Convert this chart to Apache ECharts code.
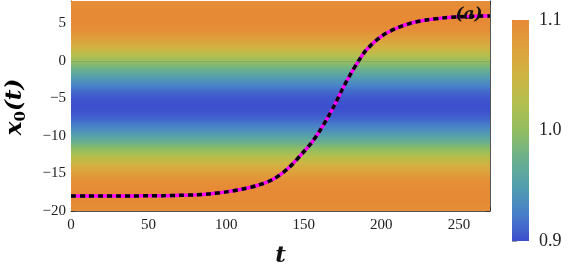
<!DOCTYPE html>
<html>
<head>
<meta charset="utf-8">
<script src="https://cdn.jsdelivr.net/npm/echarts@6/dist/echarts.min.js"></script>
<style>html,body{margin:0;padding:0;background:#fff}#c{width:575px;height:275px}</style>
</head>
<body>
<div id="c"></div>
<script>
// ---- data ----
const tValues = [0,10,20,30,40,50,60,70,80,90,100,110,120,130,140,150,155,160,165,170,175,180,185,190,200,210,220,230,240,250,260,270];
const x0Values = [-18,-18,-18,-18,-18,-17.95,-17.95,-17.9,-17.85,-17.7,-17.45,-17.1,-16.6,-15.8,-14.3,-12.1,-10.9,-9.4,-7.7,-5.8,-3.7,-1.8,-0.1,1.4,3.3,4.4,5.1,5.5,5.75,5.9,5.97,6.0];

const yLevels = [-20,-19,-18,-17,-16,-15,-14,-13,-12,-11,-10,-9,-8,-7,-6,-5,-4,-3,-2,-1,0,1,2,3,4,5,6,7,8];
const fieldValues = [1.095,1.1,1.1,1.1,1.093,1.078,1.058,1.033,1.005,0.978,0.953,0.932,0.915,0.904,0.9,0.904,0.915,0.932,0.953,0.978,1.005,1.033,1.058,1.078,1.093,1.1,1.1,1.1,1.095];

const cbStops  = [0.9, 0.925, 0.95, 0.975, 1.0, 1.025, 1.05, 1.075, 1.1];
const cbColors = ['#3d4ecf','#4880c9','#539fae','#6bb08c','#92bd61','#b3bf4d','#cfb443','#dea13c','#e68a36'];

const xTickInterval = 50, yTickInterval = 5;

// ---- helpers ----
function hex2rgb(h){return [parseInt(h.substr(1,2),16),parseInt(h.substr(3,2),16),parseInt(h.substr(5,2),16)];}
const cbRGB = cbColors.map(hex2rgb);
function colorOf(v){
  if (v <= cbStops[0]) return cbColors[0];
  if (v >= cbStops[cbStops.length-1]) return cbColors[cbColors.length-1];
  for (let i=1;i<cbStops.length;i++){
    if (v <= cbStops[i]){
      const f=(v-cbStops[i-1])/(cbStops[i]-cbStops[i-1]);
      const a=cbRGB[i-1], b=cbRGB[i];
      return 'rgb('+a.map((c,k)=>Math.round(c+(b[k]-c)*f)).join(',')+')';
    }
  }
  return cbColors[cbColors.length-1];
}
const clamp01 = x => Math.min(1, Math.max(0, Math.round(x*10000)/10000));
const fieldData = yLevels.map((y,i)=>[y, fieldValues[i]]);
const lineData = tValues.map((t,i)=>[t, x0Values[i]]);

const FONT = 'Liberation Serif';
const TFONT = 'DejaVu Serif';
const minus = v => String(v).replace('-', '\u2212');

const chart = echarts.init(document.getElementById('c'), null, {renderer:'canvas'});
const tickCommon = {show:true, inside:true, length:4, lineStyle:{color:'#333', width:1}};
const minorCommon = {show:true, splitNumber:5, length:2.5, lineStyle:{color:'#333', width:1}};
const lineCommon = {show:true, onZero:false, lineStyle:{color:'#555', width:1}};

function renderField(params, api){
  // draw one rect spanning the whole field; gradient stops placed via the axis scale
  if (params.dataIndex !== 0) return;
  const n = fieldData.length;
  const top = api.coord([0, fieldData[n-1][0]]), bot = api.coord([270, fieldData[0][0]]);
  const H = bot[1]-top[1];
  const stops = [];
  for (let i=n-1;i>=1;i--){
    const y1=fieldData[i][0], v1=fieldData[i][1], y0=fieldData[i-1][0], v0=fieldData[i-1][1];
    const sub = 6;
    for (let k=0;k<sub;k++){
      const f=k/sub, y=y1+(y0-y1)*f, v=v1+(v0-v1)*f;
      stops.push({offset:clamp01((api.coord([0,y])[1]-top[1])/H), color:colorOf(v)});
    }
  }
  stops.push({offset:1, color:colorOf(fieldData[0][1])});
  return {type:'rect', shape:{x:top[0], y:top[1], width:bot[0]-top[0], height:H},
    style:{fill:new echarts.graphic.LinearGradient(0,0,0,1,stops)}};
}

chart.setOption({
  animation:false,
  grid:[
    {left:71, top:1, width:419, height:210},
    {left:512, top:20, width:17, height:221}
  ],
  xAxis:[
    {type:'value', gridIndex:0, position:'bottom', min:0, max:270, interval:xTickInterval,
     axisLine:lineCommon, axisTick:tickCommon, minorTick:minorCommon, splitLine:{show:false},
     axisLabel:{fontFamily:FONT, fontSize:15, color:'#222', margin:7, showMaxLabel:false},
     name:'t', nameLocation:'middle', nameGap:34,
     nameTextStyle:{fontFamily:TFONT, fontSize:23, fontStyle:'italic', fontWeight:'bold', color:'#111'}},
    {type:'value', gridIndex:0, position:'top', min:0, max:270, interval:xTickInterval,
     axisLine:lineCommon, axisTick:tickCommon, minorTick:minorCommon, splitLine:{show:false},
     axisLabel:{show:false}},
    {type:'value', gridIndex:1, min:0, max:1, show:false}
  ],
  yAxis:[
    {type:'value', gridIndex:0, position:'left', min:-20, max:8, interval:yTickInterval,
     axisLine:lineCommon, axisTick:tickCommon, minorTick:minorCommon, splitLine:{show:false},
     axisLabel:{fontFamily:FONT, fontSize:15, color:'#222', margin:5, showMaxLabel:false, formatter:minus}},
    {type:'value', gridIndex:0, position:'right', min:-20, max:8, interval:yTickInterval,
     axisLine:lineCommon, axisTick:tickCommon, minorTick:minorCommon, splitLine:{show:false},
     axisLabel:{show:false}},
    {type:'value', gridIndex:1, position:'right', min:0.9, max:1.1, interval:0.1,
     axisLine:{show:true, lineStyle:{color:'#c0c4d8', width:1}},
     axisTick:{show:true, inside:false, length:5, lineStyle:{color:'#999', width:1}},
     splitLine:{show:false},
     axisLabel:{fontFamily:FONT, fontSize:18, color:'#222', margin:10, formatter:v=>v.toFixed(1)}}
  ],
  series:[
    {type:'custom', xAxisIndex:0, yAxisIndex:0, data:fieldData, encode:{x:-1, y:0}, clip:true, silent:true, z:1,
     renderItem:renderField,
     markLine:{silent:true, symbol:'none', label:{show:false}, data:[{yAxis:0}],
       lineStyle:{color:'rgba(110,150,110,0.45)', width:1, type:'solid'}}
    },
    {type:'custom', xAxisIndex:2, yAxisIndex:2, data:[[0]], silent:true, z:1,
     renderItem:function(params, api){
       const p1=api.coord([0, 1.1]), p2=api.coord([1, 0.9]);
       const stops = cbStops.map((s,i)=>({offset:clamp01((1.1-s)/0.2), color:cbColors[i]})).reverse();
       return {type:'rect', shape:{x:p1[0], y:p1[1], width:p2[0]-p1[0], height:p2[1]-p1[1]},
         style:{fill:new echarts.graphic.LinearGradient(0,0,0,1,stops)}};
     }},
    {type:'line', xAxisIndex:0, yAxisIndex:0, data:lineData, smooth:0.3, showSymbol:false, z:3,
     lineStyle:{color:'#ff00ff', width:3.5, type:'solid'}},
    {type:'line', xAxisIndex:0, yAxisIndex:0, data:lineData, smooth:0.3, showSymbol:false, z:4,
     lineStyle:{color:'#000', width:3.5, type:[5,4]}}
  ],
  graphic:[
    {type:'text', x:15, y:107, rotation:Math.PI/2, z:10,
     style:{text:'{a|x}{s|0}{a|(t)}', align:'center', verticalAlign:'middle',
       rich:{a:{fontFamily:TFONT, fontSize:23, fontStyle:'italic', fontWeight:'bold', color:'#111', lineHeight:28},
             s:{fontFamily:TFONT, fontSize:15, fontWeight:'bold', color:'#111', verticalAlign:'bottom', lineHeight:15}}}},
    {type:'text', x:469, y:15, z:10,
     style:{text:'(a)', align:'center', verticalAlign:'middle', fontFamily:TFONT, fontSize:17, fontStyle:'italic', fontWeight:'bold', fill:'#111'}}
  ]
});
</script>
</body>
</html>
